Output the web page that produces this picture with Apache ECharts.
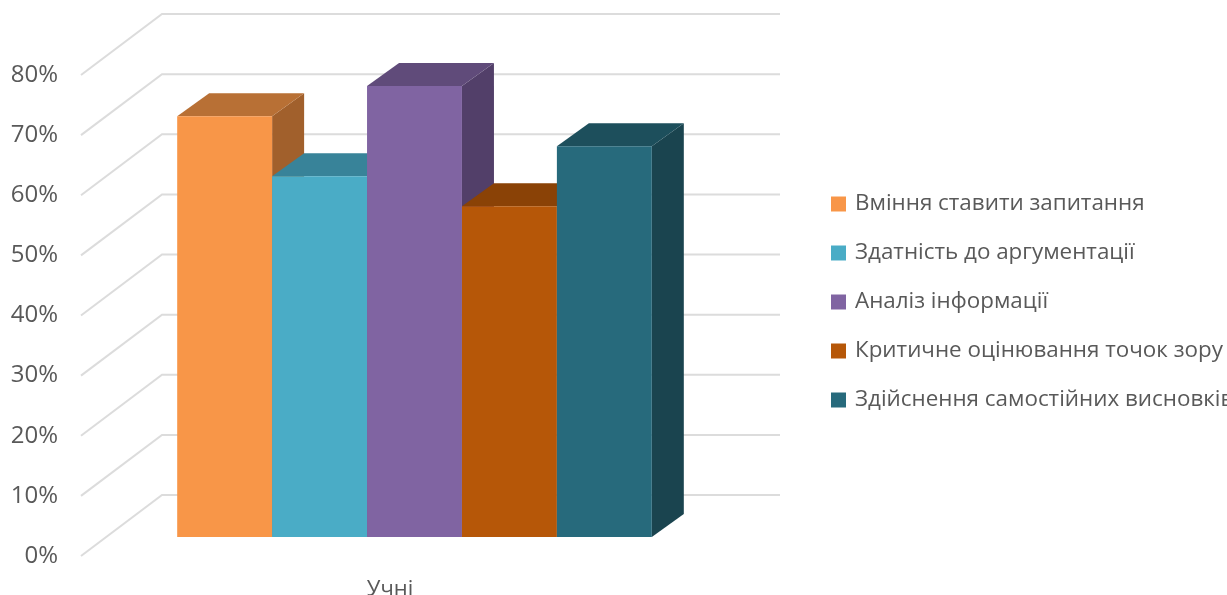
<!DOCTYPE html>
<html><head><meta charset="utf-8">
<style>html,body{margin:0;padding:0;background:#fff}#c{width:1227px;height:595px}</style>
<script src="https://cdn.jsdelivr.net/npm/echarts@6/dist/echarts.min.js"></script>
</head><body><div id="c"></div>
<script>
const categories = ['Учні'];
const seriesNames = ['Вміння ставити запитання','Здатність до аргументації','Аналіз інформації','Критичне оцінювання точок зору','Здійснення самостійних висновків'];
const seriesValues = [70, 60, 75, 55, 65];
const frontColors = ['#F89648','#4AACC6','#8064A2','#B65708','#276A7C'];
const topColors = ['#B87035','#388399','#604B7A','#8A4206','#1D4F5C'];
const sideColors = ['#A1602C','#2F6F82','#523F69','#763805','#1A444F'];
const yTicks = [0,10,20,30,40,50,60,70,80];

const FONT = '"Open Sans"';
const WALL = [81,-61], BAR_SHIFT = [24.5,-19], BAR_DEPTH = [32,-23], GROUP = 0.768;

function wallItem(params, api){
  const cs = params.coordSys;
  const y = api.coord([0, api.value(1)])[1];
  return {type:'polyline', silent:true, shape:{points:[
    [cs.x, y],[cs.x+WALL[0], y+WALL[1]],[cs.x+cs.width+WALL[0], y+WALL[1]]
  ]}, style:{stroke:'#DCDCDC', lineWidth:2, fill:null}};
}
function barItem(params, api){
  const i = params.seriesIndex-1;
  const w = api.size([1,0])[0]*GROUP/seriesValues.length;
  const c = api.coord([api.value(0), api.value(1)]);
  const b = api.coord([api.value(0), 0]);
  const x0 = c[0]+(i-seriesValues.length/2)*w+BAR_SHIFT[0], x1 = x0+w;
  const yt = c[1]+BAR_SHIFT[1], yb = b[1]+BAR_SHIFT[1];
  const dx = BAR_DEPTH[0], dy = BAR_DEPTH[1];
  return {type:'group', children:[
    {type:'polygon', shape:{points:[[x1,yt],[x1+dx,yt+dy],[x1+dx,yb+dy],[x1,yb]]}, style:{fill:sideColors[i]}},
    {type:'polygon', shape:{points:[[x0,yt],[x0+dx,yt+dy],[x1+dx,yt+dy],[x1,yt]]}, style:{fill:topColors[i]}},
    {type:'rect', shape:{x:x0,y:yt,width:w,height:yb-yt}, style:{fill:frontColors[i]}}
  ]};
}
const chart = echarts.init(document.getElementById('c'), null, {renderer:'canvas'});
chart.setOption({
  animation:false,
  backgroundColor:'#fff',
  grid:{left:81,right:528,top:75,bottom:39,outerBoundsMode:'none'},
  legend:{
    orient:'vertical', left:826, top:188, itemWidth:15, itemHeight:15, itemGap:27,
    icon:'rect', data:seriesNames,
    textStyle:{fontFamily:FONT,fontSize:22.4,color:'#595959',padding:[0,0,0,4]}
  },
  xAxis:{type:'category',data:categories,axisLine:{show:false},axisTick:{show:false},
    axisLabel:{fontFamily:FONT,fontSize:22,color:'#595959',margin:23}},
  yAxis:{type:'value',min:0,max:80,interval:10,splitLine:{show:false},axisLine:{show:false},axisTick:{show:false},
    axisLabel:{formatter:'{value}%',fontFamily:FONT,fontSize:24,color:'#595959',margin:23,padding:[2,0,0,0]}},
  series:[
    {type:'custom',name:'wall',silent:true,z:1,clip:false,renderItem:wallItem,data:yTicks.map(t=>[categories[0],t])},
    ...seriesNames.map((n,k)=>({type:'custom',name:n,z:2+k,clip:false,renderItem:barItem,
      itemStyle:{color:frontColors[k]},encode:{x:0,y:1},data:[[categories[0],seriesValues[k]]]}))
  ]
});
</script></body></html>
